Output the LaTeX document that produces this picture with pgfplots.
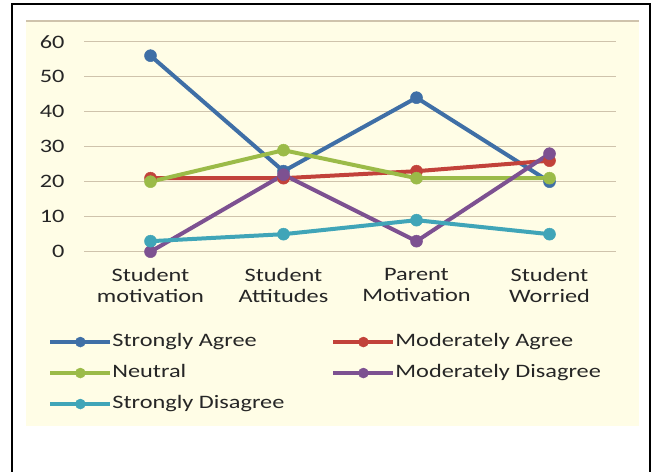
\documentclass[border=0pt]{standalone}
\usepackage{fontspec}
\setmainfont{Carlito}[FakeStretch=1.28]
\usepackage{pgfplots}
\pgfplotsset{compat=1.18}
\definecolor{csa}{HTML}{3F6FA6}
\definecolor{cma}{HTML}{C2423A}
\definecolor{cne}{HTML}{9BBB48}
\definecolor{cmd}{HTML}{7D5191}
\definecolor{csd}{HTML}{40A5B8}
\definecolor{cream}{HTML}{FFFDE6}
\definecolor{gridc}{HTML}{CFC3AC}
\definecolor{txt}{HTML}{262626}
\newcommand{\chartfont}{\fontsize{19bp}{21bp}\selectfont}
\begin{document}
\begin{tikzpicture}[x=1bp,y=1bp]
\useasboundingbox (0,0) rectangle (652,472);
\fill[cream] (26,46) rectangle (639,452);
\draw[gridc, line width=2bp] (26,451) -- (639,451);
\draw[black, line width=1.6bp] (12,-2) -- (12,468) -- (650,468) -- (650,-2);
\begin{axis}[
  at={(84bp,220.3bp)}, anchor=south west,
  scale only axis, width=532bp, height=210bp,
  xmin=-0.5, xmax=3.5, ymin=0, ymax=60,
  ytick={0,10,20,30,40,50,60},
  xtick={0,1,2,3},
  xticklabels={{Student\\motivation},{Student\\Attitudes},{Parent\\Motivation},{Student\\Worried}},
  xticklabel style={align=center, font=\chartfont, text=txt, yshift=-13bp},
  yticklabel style={font=\chartfont, text=txt, xshift=-16bp},
  /pgf/number format/assume math mode=true,
  ymajorgrids, grid style={gridc, line width=1.5bp},
  axis line style={draw=none},
  major tick length=0pt,
  clip=false,
  every axis plot/.append style={line width=4bp, line join=round, mark=*, mark size=6bp},
  legend columns=2,
  legend cell align=left,
  legend style={at={(-0.067,-0.385)}, anchor=north west, draw=none, fill=none,
    inner sep=0pt, outer sep=0pt, font=\chartfont, text=txt,
    nodes={inner sep=0pt, text height=14bp, text depth=5bp},
    row sep=12bp,
    /tikz/every even column/.append style={column sep=47bp}},
  legend image code/.code={\draw[mark repeat=2, mark phase=2, #1, mark size=5bp] plot coordinates {(0bp,0bp) (30bp,0bp) (60bp,0bp)};},
]
\addplot[color=csa, mark options={fill=csa, line width=0.5bp}] coordinates {(0,56) (1,23) (2,44) (3,20)};
\addlegendentry{Strongly Agree}
\addplot[color=cma, mark options={fill=cma, line width=0.5bp}] coordinates {(0,21) (1,21) (2,23) (3,26)};
\addlegendentry{Moderately Agree}
\addplot[color=cne, mark options={fill=cne, line width=0.5bp}] coordinates {(0,20) (1,29) (2,21) (3,21)};
\addlegendentry{Neutral}
\addplot[color=cmd, mark options={fill=cmd, line width=0.5bp}] coordinates {(0,0) (1,22) (2,3) (3,28)};
\addlegendentry{Moderately Disagree}
\addplot[color=csd, mark options={fill=csd, line width=0.5bp}] coordinates {(0,3) (1,5) (2,9) (3,5)};
\addlegendentry{Strongly Disagree}
\end{axis}
\end{tikzpicture}
\end{document}
